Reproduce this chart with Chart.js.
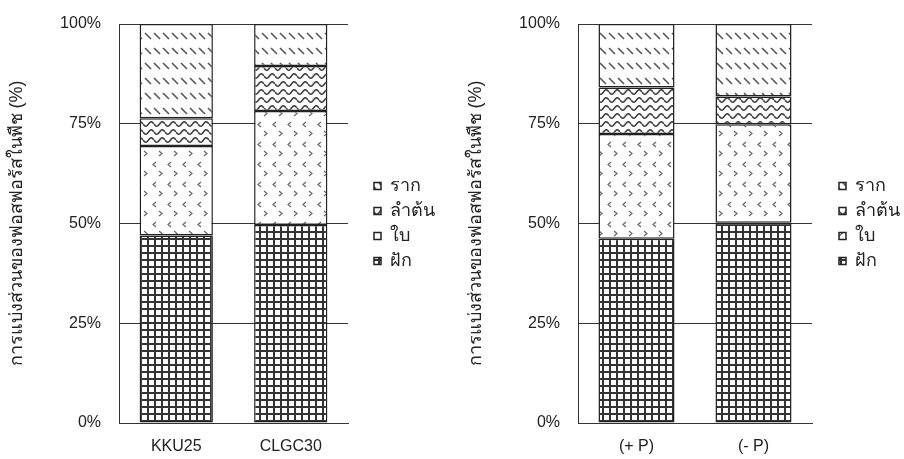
<!DOCTYPE html>
<html>
<head>
<meta charset="utf-8">
<script src="https://cdn.jsdelivr.net/npm/chart.js@4"></script>
<style>
  body { margin: 0; background: #fff; }
  .panel { position: absolute; top: 0; height: 459px; }
</style>
</head>
<body>
<div class="panel" style="left:0;width:455px"><canvas id="chartA" width="455" height="459"></canvas></div>
<div class="panel" style="left:455px;width:449px"><canvas id="chartB" width="449" height="459"></canvas></div>
<script>
// data (percent of plant P)
const categoriesA = ['KKU25', 'CLGC30'];
const podA  = [47.0, 49.6];
const leafA = [22.4, 28.6];
const stemA = [7.0, 11.3];
const rootA = [23.6, 10.5];

const categoriesB = ['(+ P)', '(- P)'];
const podB  = [46.2, 50.2];
const leafB = [26.2, 24.7];
const stemB = [11.7, 6.9];
const rootB = [15.9, 18.2];

const seriesNames = ['ฝัก', 'ใบ', 'ลำต้น', 'ราก'];
const yTicks = [0, 25, 50, 75, 100];
const yTitle = 'การแบ่งส่วนของฟอสฟอรัสในพืช (%)';

const FONT = "'Liberation Sans', Arial, sans-serif";
const INK = '#222';

function pat(w, h, draw) {
  const c = document.createElement('canvas');
  c.width = w; c.height = h;
  const g = c.getContext('2d');
  g.fillStyle = '#fff';
  g.fillRect(0, 0, w, h);
  draw(g);
  return g.createPattern(c, 'repeat');
}

const podFill = pat(7, 7, g => {
  g.fillStyle = '#333';
  g.fillRect(0, 0, 7, 2);
  g.fillRect(0, 0, 2, 7);
});
const leafFill = pat(15, 20, g => {
  g.strokeStyle = '#666';
  g.lineWidth = 1.2;
  g.beginPath();
  g.moveTo(6, 2); g.lineTo(3, 4.5); g.lineTo(6, 7);
  g.moveTo(9, 11); g.lineTo(12, 13.5); g.lineTo(9, 16);
  g.stroke();
});
const stemFill = pat(11, 8, g => {
  g.strokeStyle = '#444';
  g.lineWidth = 1.6;
  g.beginPath();
  for (let x = 0; x <= 11; x += 0.5) {
    const y = 4 + 2.2 * Math.sin(2 * Math.PI * x / 11);
    if (x === 0) g.moveTo(x, y); else g.lineTo(x, y);
  }
  g.stroke();
});
const rootFill = pat(9, 15, g => {
  g.strokeStyle = '#555';
  g.lineWidth = 1.6;
  g.beginPath();
  g.moveTo(1, 3); g.lineTo(7, 9);
  g.stroke();
});
const fills = [podFill, leafFill, stemFill, rootFill];

// fixed legend width, then nudge the legend box into place
function legendFix(width, shiftX, shiftY) {
  return {
    id: 'legendFix',
    afterInit(chart) {
      const lg = chart.legend;
      const fit = lg.fit;
      lg.fit = function () { fit.call(this); this.width = width; };
    },
    afterLayout(chart) {
      const lg = chart.legend;
      lg.left += shiftX; lg.right += shiftX;
      lg.top += shiftY; lg.bottom += shiftY;
    }
  };
}

function makeChart(id, labels, values, g) {
  return new Chart(document.getElementById(id), {
    type: 'bar',
    data: {
      labels: labels,
      datasets: values.map((v, i) => ({
        label: seriesNames[i],
        data: v,
        backgroundColor: fills[i],
        borderColor: '#222',
        borderWidth: 1.5,
        borderSkipped: false,
        barPercentage: g.bar,
        categoryPercentage: 1
      }))
    },
    options: {
      responsive: false,
      animation: false,
      layout: { padding: { top: 24, bottom: 0, left: 0, right: 0 } },
      plugins: {
        tooltip: { enabled: false },
        legend: {
          position: 'right',
          reverse: true,
          labels: {
            boxWidth: 7,
            boxHeight: 7,
            padding: 7,
            color: INK,
            font: { family: FONT, size: 18 }
          }
        }
      },
      scales: {
        x: {
          stacked: true,
          grid: { display: false },
          border: { display: true, color: '#333', width: 1 },
          ticks: { color: INK, padding: 6, font: { family: FONT, size: 16 } },
          afterFit: s => { s.height = 36; s.paddingLeft = 0; s.paddingRight = 0; }
        },
        y: {
          stacked: true,
          min: 0,
          max: 100,
          afterBuildTicks: s => { s.ticks = yTicks.map(v => ({ value: v })); },
          grid: { color: '#333', lineWidth: 1, drawTicks: false },
          border: { display: true, color: '#333', width: 1 },
          ticks: {
            color: INK,
            padding: 18,
            font: { family: FONT, size: 16 },
            callback: v => v + '%'
          },
          title: {
            display: true,
            text: yTitle,
            color: INK,
            padding: { top: g.titlePad, bottom: 0 },
            font: { family: FONT, size: 18 }
          },
          afterFit: s => { s.width = g.axisW; s.paddingTop = 0; s.paddingBottom = 0; }
        }
      }
    },
    plugins: [legendFix(g.legendW, g.shiftX, g.shiftY)]
  });
}

makeChart('chartA', categoriesA, [podA, leafA, stemA, rootA],
  { axisW: 119, legendW: 107, shiftX: 19, shiftY: -18, bar: 0.64, titlePad: 6 });
makeChart('chartB', categoriesB, [podB, leafB, stemB, rootB],
  { axisW: 123, legendW: 92, shiftX: 20, shiftY: -18, bar: 0.65, titlePad: 10 });
</script>
</body>
</html>
